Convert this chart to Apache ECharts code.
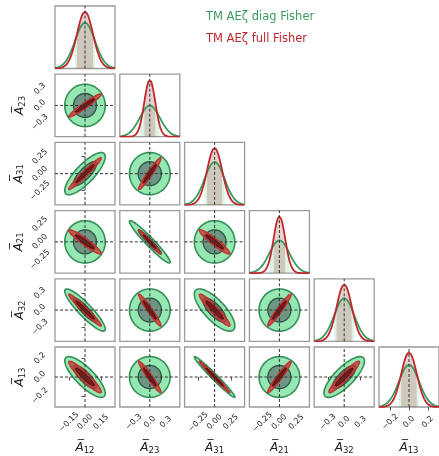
<!DOCTYPE html>
<html><head><meta charset="utf-8">
<script src="https://cdn.jsdelivr.net/npm/echarts@6/dist/echarts.min.js"></script>
<style>html,body{margin:0;padding:0;background:#fff}#c{width:439px;height:456px}</style>
</head><body><div id="c"></div><script>
// ---- data ----
const paramNames = ['12', '23', '31', '21', '32', '13'];
const axisHalfRange = [0.28, 0.56, 0.46, 0.44, 0.55, 0.32];
const tickValues = [[-0.15, 0, 0.15], [-0.3, 0, 0.3], [-0.25, 0, 0.25], [-0.25, 0, 0.25], [-0.3, 0, 0.3], [-0.2, 0, 0.2]];
const tickLabels = [['\u22120.15', '0.00', '0.15'], ['\u22120.3', '0.0', '0.3'], ['\u22120.25', '0.00', '0.25'], ['\u22120.25', '0.00', '0.25'], ['\u22120.3', '0.0', '0.3'], ['\u22120.2', '0.0', '0.2']];
const sigmaDiagFisher = [0.093, 0.187, 0.153, 0.147, 0.183, 0.107];
const sigmaFullFisher = [0.075, 0.103, 0.116, 0.085, 0.139, 0.083];
// correlation of row parameter i with column parameter j (j < i)
const rhoDiagFisher = [[], [0], [0.80, 0], [0, -0.96, 0], [-0.90, 0, -0.75, 0], [-0.80, 0, -0.98, 0, 0.78]];
const rhoFullFisher = [[], [0.96], [0.97, 0.96], [-0.94, -0.98, -0.94], [-0.97, -0.96, -0.94, 0.96], [-0.93, -0.96, -0.99, 0.96, 0.94]];
const contourLevels = [2.03, 1.15];
const seriesNames = ['TM AE\u03b6 diag Fisher', 'TM AE\u03b6 full Fisher'];

// ---- styling ----
const FONT = 'DejaVu Sans';
const GREEN = '#3a9a5c', RED = '#c0282d';
const L0 = 55, T0 = 6, DX = 64.8, DY = 68.2, W = 60, H = 62.5;
const N = paramNames.length;

const grids = [], xAxes = [], yAxes = [], series = [];

function nameRich(p) { return '{a|A\u0305}{s|' + p + '}'; }
const richStyle = {
  a: { fontFamily: FONT, fontSize: 12, fontStyle: 'italic', color: '#222' },
  s: { fontFamily: FONT, fontSize: 8.5, color: '#222', padding: [5, 0, 0, 0] }
};
function labelFmt(k) {
  return function (v) {
    const vals = tickValues[k];
    for (let i = 0; i < vals.length; i++) if (Math.abs(vals[i] - v) < 1e-9) return tickLabels[k][i];
    return '';
  };
}

function addGrid(row, col) {
  const gi = grids.length;
  grids.push({ left: L0 + DX * col, top: T0 + DY * row, width: W, height: H, show: true,
    borderColor: '#9a9a9a', borderWidth: 1.3, backgroundColor: '#fff', containLabel: false });
  return gi;
}

function xAxisFor(gi, k, showLab) {
  const R = axisHalfRange[k];
  xAxes.push({ gridIndex: gi, type: 'value', min: -R, max: R,
    splitLine: { show: false }, axisLine: { show: false },
    axisTick: { show: showLab, customValues: tickValues[k], length: 3.5, lineStyle: { color: '#555' } },
    axisLabel: { show: showLab, customValues: tickValues[k], formatter: labelFmt(k), rotate: 45, margin: 15,
      align: 'center', verticalAlign: 'middle', fontFamily: FONT, fontSize: 8, color: '#222' },
    name: showLab ? nameRich(paramNames[k]) : '', nameLocation: 'middle', nameGap: 34,
    nameTextStyle: { rich: richStyle } });
}
function yAxisFor(gi, k, showLab) {
  const R = axisHalfRange[k];
  yAxes.push({ gridIndex: gi, type: 'value', min: -R, max: R,
    splitLine: { show: false }, axisLine: { show: false },
    axisTick: { show: showLab, customValues: tickValues[k], length: 3.5, lineStyle: { color: '#555' } },
    axisLabel: { show: showLab, customValues: tickValues[k], formatter: labelFmt(k), rotate: 45, margin: 15,
      align: 'center', verticalAlign: 'middle', fontFamily: FONT, fontSize: 8, color: '#222' },
    name: showLab ? nameRich(paramNames[k]) : '', nameLocation: 'middle', nameGap: 27, nameRotate: 90,
    nameTextStyle: { rich: richStyle } });
}

function gaussPts(sig, a, b, n) {
  const pts = [];
  for (let i = 0; i <= n; i++) {
    const x = a + (b - a) * i / n;
    pts.push([x, Math.exp(-0.5 * x * x / (sig * sig)) / sig]);
  }
  return pts;
}
function ellipsePts(sx, sy, rho, k) {
  const pts = [], c = Math.sqrt(1 - rho * rho);
  for (let i = 0; i < 120; i++) {
    const t = 2 * Math.PI * i / 120;
    pts.push([k * sx * Math.cos(t), k * sy * (rho * Math.cos(t) + c * Math.sin(t))]);
  }
  return pts;
}
function polySeries(gi, pts, fill, stroke, lw, z) {
  return { type: 'custom', xAxisIndex: gi, yAxisIndex: gi, data: [[0, 0]], silent: true, z: z, clip: false,
    renderItem: function (params, api) {
      return { type: 'polygon', shape: { points: pts.map(function (p) { return api.coord(p); }) },
        style: { fill: fill, stroke: stroke, lineWidth: lw } };
    } };
}
function dashSeries(gi, data) {
  return { type: 'line', xAxisIndex: gi, yAxisIndex: gi, data: data, symbol: 'none', silent: true, z: 20,
    lineStyle: { color: '#333', width: 1, type: [3, 2] } };
}

// ---- diagonal panels ----
for (let k = 0; k < N; k++) {
  const gi = addGrid(k, k);
  const R = axisHalfRange[k], sg = sigmaDiagFisher[k], sr = sigmaFullFisher[k];
  xAxisFor(gi, k, k === N - 1);
  const ymax = 1.1 / sr;
  yAxes.push({ gridIndex: gi, type: 'value', min: 0, max: ymax, show: false, splitLine: { show: false } });
  series.push({ type: 'line', xAxisIndex: gi, yAxisIndex: gi, data: gaussPts(sg, -sg, sg, 40), symbol: 'none', silent: true, z: 2,
    lineStyle: { width: 0 }, areaStyle: { color: 'rgba(70,180,110,0.25)', origin: 'start' } });
  series.push({ type: 'line', xAxisIndex: gi, yAxisIndex: gi, data: gaussPts(sr, -sr, sr, 40), symbol: 'none', silent: true, z: 3,
    lineStyle: { width: 0 }, areaStyle: { color: 'rgba(160,70,60,0.35)', origin: 'start' } });
  series.push({ name: seriesNames[0], type: 'line', xAxisIndex: gi, yAxisIndex: gi, data: gaussPts(sg, -R, R, 160), symbol: 'none', silent: true, z: 4,
    lineStyle: { color: GREEN, width: 1.8 } });
  series.push({ name: seriesNames[1], type: 'line', xAxisIndex: gi, yAxisIndex: gi, data: gaussPts(sr, -R, R, 160), symbol: 'none', silent: true, z: 5,
    lineStyle: { color: RED, width: 1.8 } });
  series.push(dashSeries(gi, [[0, 0], [0, ymax]]));
}

// ---- off-diagonal panels ----
for (let i = 1; i < N; i++) {
  for (let j = 0; j < i; j++) {
    const gi = addGrid(i, j);
    xAxisFor(gi, j, i === N - 1);
    yAxisFor(gi, i, j === 0);
    const gO = ellipsePts(sigmaDiagFisher[j], sigmaDiagFisher[i], rhoDiagFisher[i][j], contourLevels[0]);
    const gI = ellipsePts(sigmaDiagFisher[j], sigmaDiagFisher[i], rhoDiagFisher[i][j], contourLevels[1]);
    const rO = ellipsePts(sigmaFullFisher[j], sigmaFullFisher[i], rhoFullFisher[i][j], contourLevels[0]);
    const rI = ellipsePts(sigmaFullFisher[j], sigmaFullFisher[i], rhoFullFisher[i][j], contourLevels[1]);
    series.push(polySeries(gi, gO, '#95e8b2', '#358f58', 1.6, 2));
    series.push(polySeries(gi, gI, '#6f9585', '#2d5a44', 1.4, 3));
    series.push(polySeries(gi, rO, 'rgba(195,55,52,0.8)', '#c0302e', 1.3, 4));
    series.push(polySeries(gi, rI, '#7a1c1c', '#3a0808', 1.0, 5));
    const Rx = axisHalfRange[j], Ry = axisHalfRange[i];
    series.push(dashSeries(gi, [[0, -Ry], [0, Ry]]));
    series.push(dashSeries(gi, [[-Rx, 0], [Rx, 0]]));
  }
}

const chart = echarts.init(document.getElementById('c'), null, { renderer: 'canvas' });
chart.setOption({
  backgroundColor: '#fff',
  animation: false,
  grid: grids, xAxis: xAxes, yAxis: yAxes, series: series,
  graphic: [
    { type: 'text', left: 206, top: 11, style: { text: seriesNames[0], fill: GREEN, font: '11.5px "DejaVu Sans"' } },
    { type: 'text', left: 206, top: 33, style: { text: seriesNames[1], fill: RED, font: '11.5px "DejaVu Sans"' } }
  ]
});
</script></body></html>
